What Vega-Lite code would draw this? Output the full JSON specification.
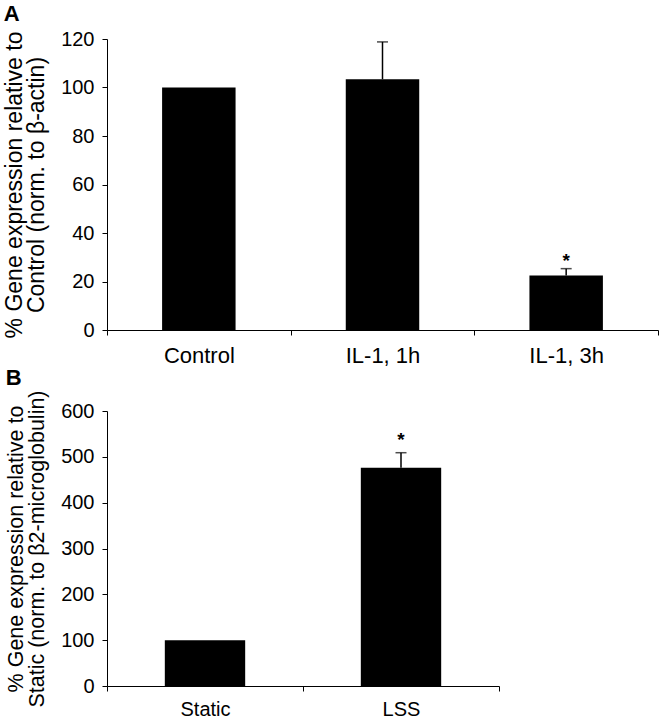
{
  "$schema": "https://vega.github.io/schema/vega-lite/v6.json",
  "padding": {"left": 3, "top": 3, "right": 0, "bottom": 0},
  "spacing": 0,
  "config": {
    "font": "Liberation Sans",
    "view": {"stroke": null},
    "axis": {
      "domainColor": "black",
      "tickColor": "black",
      "labelColor": "black",
      "titleColor": "black",
      "labelFont": "Liberation Sans",
      "titleFont": "Liberation Sans",
      "labelFontSize": 20,
      "titleFontWeight": "normal",
      "grid": false,
      "domainWidth": 1,
      "tickWidth": 1
    },
    "title": {"font": "Liberation Sans", "fontSize": 22, "fontWeight": "bold", "color": "black", "anchor": "start", "frame": "bounds"}
  },
  "vconcat": [
    {
      "title": {"text": "A", "offset": 3},
      "width": 551,
      "height": 291,
      "data": {"values": [
        {"cond": "Control", "value": 100},
        {"cond": "IL-1, 1h", "value": 103.4, "upper": 118.8},
        {"cond": "IL-1, 3h", "value": 22.5, "upper": 25.3, "star": "*"}
      ]},
      "encoding": {
        "x": {"field": "cond", "type": "nominal", "sort": null,
          "scale": {"paddingInner": 0, "paddingOuter": 0},
          "axis": {"title": null, "labelAngle": 0, "tickBand": "extent", "tickSize": 5, "labelPadding": 10, "labelFontSize": 22}}
      },
      "layer": [
        {
          "mark": {"type": "bar", "color": "black", "width": {"band": 0.4}},
          "encoding": {
            "y": {"field": "value", "type": "quantitative",
              "scale": {"domain": [0, 120], "nice": false},
              "axis": {"values": [0, 20, 40, 60, 80, 100, 120], "tickSize": 5, "labelPadding": 8, "titlePadding": 12, "titleFontSize": 23, "titleLineHeight": 22,
                "title": ["% Gene expression relative to", "Control (norm. to β-actin)"]}}
          }
        },
        {
          "transform": [{"filter": "isValid(datum.upper)"}],
          "mark": {"type": "rule", "color": "black", "strokeWidth": 1.5},
          "encoding": {
            "y": {"field": "value", "type": "quantitative"},
            "y2": {"field": "upper"}
          }
        },
        {
          "transform": [{"filter": "isValid(datum.upper)"}],
          "mark": {"type": "tick", "color": "black", "size": 11, "thickness": 1.5, "orient": "horizontal"},
          "encoding": {
            "y": {"field": "upper", "type": "quantitative"}
          }
        },
        {
          "transform": [{"filter": "isValid(datum.star)"}],
          "mark": {"type": "text", "color": "black", "fontSize": 19, "fontWeight": "bold", "dy": 2, "baseline": "bottom"},
          "encoding": {
            "y": {"field": "upper", "type": "quantitative"},
            "text": {"field": "star"}
          }
        }
      ]
    },
    {
      "title": {"text": "B", "offset": 0},
      "width": 392,
      "height": 275,
      "data": {"values": [
        {"cond": "Static", "value": 100},
        {"cond": "LSS", "value": 476, "upper": 509, "star": "*"}
      ]},
      "encoding": {
        "x": {"field": "cond", "type": "nominal", "sort": null,
          "scale": {"paddingInner": 0, "paddingOuter": 0},
          "axis": {"title": null, "labelAngle": 0, "tickBand": "extent", "tickSize": 5, "labelPadding": 8, "labelFontSize": 20}}
      },
      "layer": [
        {
          "mark": {"type": "bar", "color": "black", "width": {"band": 0.41}},
          "encoding": {
            "y": {"field": "value", "type": "quantitative",
              "scale": {"domain": [0, 600], "nice": false},
              "axis": {"values": [0, 100, 200, 300, 400, 500, 600], "tickSize": 5, "labelPadding": 8, "titlePadding": 12, "titleFontSize": 21.5, "titleLineHeight": 21,
                "title": ["% Gene expression relative to", "Static (norm. to β2-microglobulin)"]}}
          }
        },
        {
          "transform": [{"filter": "isValid(datum.upper)"}],
          "mark": {"type": "rule", "color": "black", "strokeWidth": 1.5},
          "encoding": {
            "y": {"field": "value", "type": "quantitative"},
            "y2": {"field": "upper"}
          }
        },
        {
          "transform": [{"filter": "isValid(datum.upper)"}],
          "mark": {"type": "tick", "color": "black", "size": 11, "thickness": 1.5, "orient": "horizontal"},
          "encoding": {
            "y": {"field": "upper", "type": "quantitative"}
          }
        },
        {
          "transform": [{"filter": "isValid(datum.star)"}],
          "mark": {"type": "text", "color": "black", "fontSize": 19, "fontWeight": "bold", "dy": -3, "baseline": "bottom"},
          "encoding": {
            "y": {"field": "upper", "type": "quantitative"},
            "text": {"field": "star"}
          }
        }
      ]
    }
  ]
}
